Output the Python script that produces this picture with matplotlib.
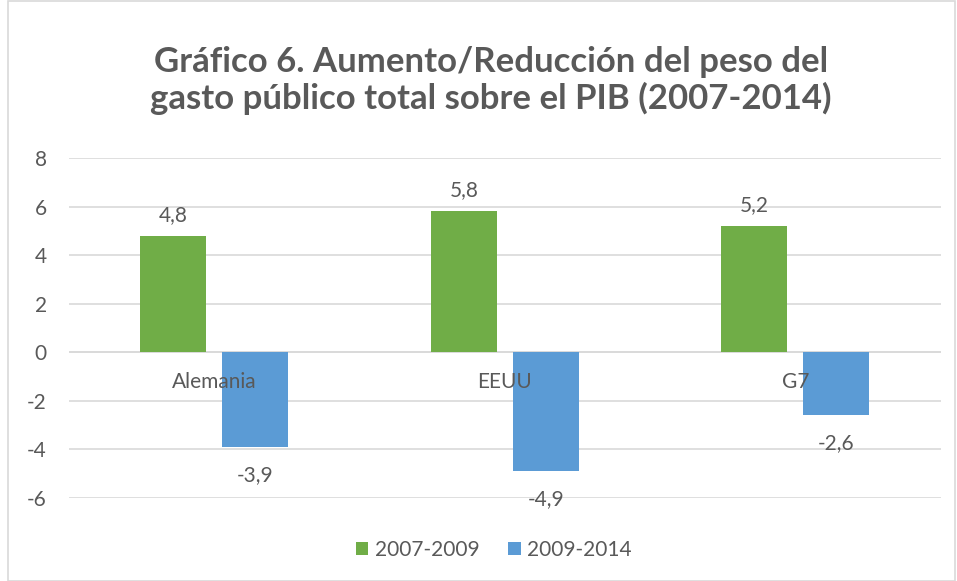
import numpy as np
import matplotlib.pyplot as plt
from matplotlib.patches import Rectangle

plt.rcParams['font.family'] = ['Lato', 'DejaVu Sans']

categories = ['Alemania', 'EEUU', 'G7']
series_names = ['2007-2009', '2009-2014']
v_0709 = [4.8, 5.8, 5.2]
v_0914 = [-3.9, -4.9, -2.6]
y_ticks = [-6, -4, -2, 0, 2, 4, 6, 8]

green = '#70AD47'
blue = '#5B9BD5'
txt = '#595959'
grid = '#D9D9D9'

fig = plt.figure(figsize=(9.57, 5.81), dpi=100)
ax = fig.add_axes([0.072, 0.143, 0.911, 0.585])

x = np.arange(len(categories))
w = 0.227
off = 0.141
b1 = ax.bar(x - off, v_0709, w, color=green, label=series_names[0], zorder=3)
b2 = ax.bar(x + off, v_0914, w, color=blue, label=series_names[1], zorder=3)

# data labels
for xi, v in zip(x - off, v_0709):
    ax.annotate(f'{v:.1f}'.replace('.', ','), (xi, v), xytext=(0, 8), textcoords='offset points',
                ha='center', va='bottom', fontsize=15, color=txt)
for xi, v in zip(x + off, v_0914):
    ax.annotate(f'{v:.1f}'.replace('.', ','), (xi, v), xytext=(0, -13), textcoords='offset points',
                ha='center', va='top', fontsize=15, color=txt)

# category labels sit on the zero line, drawn over the bars
for xi, c in zip(x, categories):
    ax.annotate(c, (xi, 0), xytext=(0, -14), textcoords='offset points',
                ha='center', va='top', fontsize=15, color=txt, zorder=5)

ax.set_xlim(-0.5, 2.5)
ax.set_ylim(-6, 8)
ax.set_yticks(y_ticks)
ax.set_yticklabels([str(t) for t in y_ticks], fontsize=15, color=txt)
ax.set_xticks([])
ax.tick_params(axis='y', length=0, pad=16)
ax.grid(axis='y', color=grid, linewidth=1.2, zorder=0)
ax.axhline(0, color=grid, linewidth=1.2, zorder=2)
for s in ax.spines.values():
    s.set_visible(False)

fig.text(0.513, 0.862, 'Gráfico 6. Aumento/Reducción del peso del\ngasto público total sobre el PIB (2007-2014)',
         ha='center', va='center', fontsize=25, fontweight='bold', color=txt, linespacing=1.15)

leg = fig.legend(handles=[b1, b2], loc='center', bbox_to_anchor=(0.516, 0.053), ncol=2,
                 frameon=False, fontsize=15, handlelength=0.6, handleheight=0.6,
                 handletextpad=0.3, columnspacing=1.4)
for t in leg.get_texts():
    t.set_color(txt)

fig.patches.append(Rectangle((0.008, 0.0), 0.99, 0.998, transform=fig.transFigure,
                             fill=False, edgecolor='#D9D9D9', linewidth=1.2))

fig.savefig('out.png', dpi=100)
